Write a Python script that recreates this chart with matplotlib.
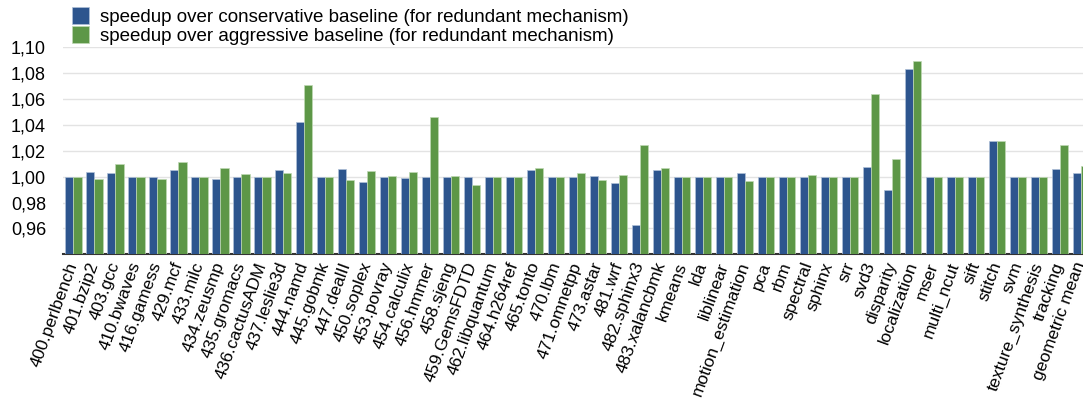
import numpy as np
import matplotlib.pyplot as plt
from matplotlib.ticker import FuncFormatter

plt.rcParams['font.family'] = ['Liberation Sans', 'DejaVu Sans']

benchmarks = ['400.perlbench', '401.bzip2', '403.gcc', '410.bwaves', '416.gamess', '429.mcf',
              '433.milc', '434.zeusmp', '435.gromacs', '436.cactusADM', '437.leslie3d', '444.namd',
              '445.gobmk', '447.dealII', '450.soplex', '453.povray', '454.calculix', '456.hmmer',
              '458.sjeng', '459.GemsFDTD', '462.libquantum', '464.h264ref', '465.tonto', '470.lbm',
              '471.omnetpp', '473.astar', '481.wrf', '482.sphinx3', '483.xalancbmk', 'kmeans', 'lda',
              'liblinear', 'motion_estimation', 'pca', 'rbm', 'spectral', 'sphinx', 'srr', 'svd3',
              'disparity', 'localization', 'mser', 'multi_ncut', 'sift', 'stitch', 'svm',
              'texture_synthesis', 'tracking', 'geometric mean']

conservative = [1.000, 1.004, 1.003, 1.000, 1.000, 1.005, 1.000, 0.998, 0.9995, 1.000, 1.005, 1.042,
                1.000, 1.006, 0.996, 0.9997, 0.999, 1.000, 0.9997, 0.9995, 1.000, 1.000, 1.0054, 1.000,
                1.000, 1.0008, 0.9951, 0.9626, 1.0049, 1.000, 1.000, 1.000, 1.003, 1.000, 1.000, 1.000,
                0.9995, 1.000, 1.0077, 0.9897, 1.0835, 1.000, 1.000, 1.000, 1.0273, 1.000, 1.000,
                1.0059, 1.0031]

aggressive = [0.9995, 0.998, 1.0098, 1.000, 0.998, 1.0116, 1.000, 1.0064, 1.002, 1.000, 1.003, 1.0706,
              1.000, 0.9977, 1.0046, 1.0003, 1.0036, 1.0464, 1.0008, 0.9933, 1.000, 1.000, 1.0064, 1.000,
              1.003, 0.9972, 1.0013, 1.0245, 1.0064, 1.000, 1.000, 1.000, 0.9966, 1.000, 1.000, 1.0013,
              1.000, 1.000, 1.0642, 1.0139, 1.0897, 1.000, 1.000, 1.000, 1.0278, 1.000, 1.000,
              1.0245, 1.0082]

labels = ['speedup over conservative baseline (for redundant mechanism)',
          'speedup over aggressive baseline (for redundant mechanism)']

blue = '#2D558E'
green = '#5D9747'

fig = plt.figure(figsize=(10.83, 4.05), dpi=100)
ax = fig.add_axes([0.0579, 0.372, 0.9421, 0.511])

x = np.arange(len(benchmarks))
w = 0.39
base = 0.94
ax.bar(x - w / 2, np.array(conservative) - base, w, bottom=base, color=blue,
       edgecolor='#AFC0D8', linewidth=0.5, label=labels[0], zorder=3)
ax.bar(x + w / 2, np.array(aggressive) - base, w, bottom=base, color=green,
       edgecolor='#BFD9B4', linewidth=0.5, label=labels[1], zorder=3)

ax.set_ylim(0.94, 1.10)
ax.set_xlim(-0.51, 48.1)
ax.set_yticks(np.arange(0.96, 1.101, 0.02))
ax.yaxis.set_major_formatter(FuncFormatter(lambda v, p: ('%.2f' % v).replace('.', ',')))
ax.grid(axis='y', color='#E3E3E3', linewidth=1, zorder=0)
ax.tick_params(axis='y', length=0, pad=12, labelsize=13)
ax.tick_params(axis='x', length=0, pad=6)

ax.set_xticks(x)
ax.set_xticklabels(benchmarks, rotation=70, ha='right', va='center',
                   rotation_mode='anchor', fontsize=12.5)

for s in ['left', 'right', 'top']:
    ax.spines[s].set_visible(False)
ax.spines['bottom'].set_color('#333333')
ax.spines['bottom'].set_linewidth(1.5)

fig.legend(loc='upper left', bbox_to_anchor=(0.058, 1.005), frameon=False, fontsize=13.5,
           borderpad=0, handlelength=0.9, handleheight=1.0, handletextpad=0.6,
           labelspacing=0.0)

plt.savefig('out.png', dpi=100)
